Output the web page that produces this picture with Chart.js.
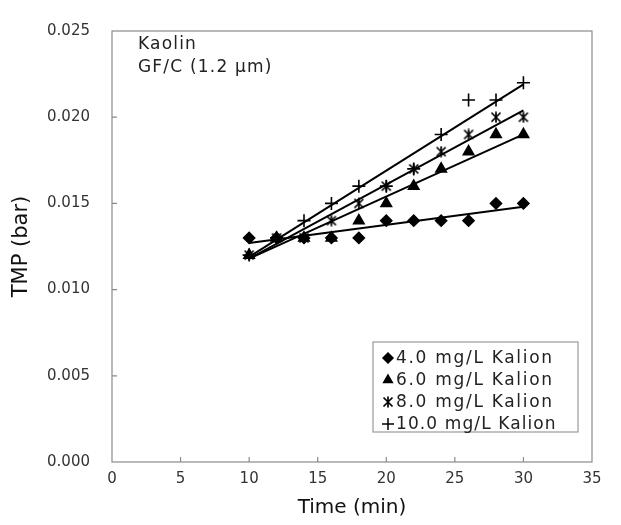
<!DOCTYPE html>
<html><head><meta charset="utf-8">
<script src="https://cdn.jsdelivr.net/npm/chart.js@4/dist/chart.umd.min.js"></script>
<style>html,body{margin:0;padding:0;background:#fff;}#wrap{width:621px;height:525px;}</style>
</head><body><div id="wrap"><canvas id="c" width="621" height="525"></canvas></div>
<script>
const time = [10, 12, 14, 16, 18, 20, 22, 24, 26, 28, 30];
const kal4 = [0.013, 0.013, 0.013, 0.013, 0.013, 0.014, 0.014, 0.014, 0.014, 0.015, 0.015];
const kal6 = [0.012, 0.013, 0.013, 0.013, 0.014, 0.015, 0.016, 0.017, 0.018, 0.019, 0.019];
const kal8 = [0.012, 0.013, 0.013, 0.014, 0.015, 0.016, 0.017, 0.018, 0.019, 0.020, 0.020];
const kal10 = [0.012, 0.013, 0.014, 0.015, 0.016, 0.016, 0.017, 0.019, 0.021, 0.021, 0.022];
const trendX = [10, 30];
const trend4 = [0.0127, 0.0148];
const trend6 = [0.0118, 0.0190];
const trend8 = [0.0118, 0.0204];
const trend10 = [0.0119, 0.0219];
const seriesLabels = ['4.0 mg/L Kalion', '6.0 mg/L Kalion', '8.0 mg/L Kalion', '10.0 mg/L Kalion'];
const xTicks = [0, 5, 10, 15, 20, 25, 30, 35];
const yTicks = [0, 0.005, 0.010, 0.015, 0.020, 0.025];
const noteLines = ['Kaolin', 'GF/C (1.2 \u03bcm)'];

const FONT = '"DejaVu Sans", Verdana, sans-serif';

// asterisk-like marker (X + vertical bar)
function makeStar(size) {
  const c = document.createElement('canvas');
  c.width = size; c.height = size;
  const g = c.getContext('2d');
  g.strokeStyle = '#000'; g.lineWidth = 1.7;
  const m = 1.5, e = size - 1.5, h = size / 2;
  g.beginPath();
  g.moveTo(m, m); g.lineTo(e, e);
  g.moveTo(e, m); g.lineTo(m, e);
  g.moveTo(h, 0.5); g.lineTo(h, size - 0.5);
  g.stroke();
  return c;
}
const starImg = makeStar(12);

const pts = (ys) => time.map((t, i) => ({x: t, y: ys[i]}));
const tpts = (ys) => trendX.map((t, i) => ({x: t, y: ys[i]}));
const styles = [
  {pointStyle: 'rectRot', radius: 5.5},
  {pointStyle: 'triangle', radius: 6},
  {pointStyle: starImg, radius: 6},
  {pointStyle: 'cross', radius: 6.5}
];
const series = [kal4, kal6, kal8, kal10];
const trends = [trend4, trend6, trend8, trend10];
const datasets = [];
trends.forEach((t) => datasets.push({type: 'line', data: tpts(t), borderColor: '#000', borderWidth: 2, pointRadius: 0, fill: false, showLine: true, order: 2}));
series.forEach((s, i) => datasets.push({type: 'scatter', label: seriesLabels[i], data: pts(s), pointStyle: styles[i].pointStyle, pointRadius: styles[i].radius, pointBackgroundColor: '#000', pointBorderColor: '#000', pointBorderWidth: 1.6, showLine: false, order: 1}));

const framePlugin = {
  id: 'frame',
  afterDraw(chart) {
    const {ctx, chartArea: a, scales} = chart;
    ctx.save();
    ctx.strokeStyle = '#8a8a8a';
    ctx.lineWidth = 1.2;
    ctx.strokeRect(a.left, a.top, a.right - a.left, a.bottom - a.top);
    ctx.beginPath();
    xTicks.forEach(v => { if (v > 0 && v < 35) { const px = scales.x.getPixelForValue(v); ctx.moveTo(px, a.bottom); ctx.lineTo(px, a.bottom - 5); } });
    yTicks.forEach(v => { if (v > 0 && v < 0.025) { const py = scales.y.getPixelForValue(v); ctx.moveTo(a.left, py); ctx.lineTo(a.left + 5, py); } });
    ctx.stroke();
    // note text
    ctx.fillStyle = '#222';
    ctx.font = '17px ' + FONT;
    ctx.letterSpacing = '1.2px';
    ctx.textBaseline = 'middle';
    ctx.textAlign = 'left';
    ctx.fillText(noteLines[0], 138, 45);
    ctx.fillText(noteLines[1], 138, 68);
    // legend
    const bx = 373, by = 342, bw = 205, bh = 90;
    ctx.strokeStyle = '#9a9a9a';
    ctx.lineWidth = 1.2;
    ctx.strokeRect(bx, by, bw, bh);
    seriesLabels.forEach((lab, i) => {
      const cy = by + 16 + i * 22;
      ctx.fillStyle = '#000'; ctx.strokeStyle = '#000'; ctx.lineWidth = 1.5;
      Chart.helpers.drawPoint(ctx, {pointStyle: styles[i].pointStyle, radius: i === 3 ? 6 : 5, borderWidth: 1.5, rotation: 0}, 388, cy);
      ctx.fillStyle = '#222';
      ctx.font = '17px ' + FONT;
      ctx.letterSpacing = i === 3 ? '1.1px' : '1.7px';
      ctx.fillText(lab, 396, cy + 1);
    });
    ctx.letterSpacing = '0px';
    ctx.restore();
  }
};

new Chart(document.getElementById('c'), {
  type: 'scatter',
  data: {datasets},
  options: {
    responsive: false,
    animation: false,
    layout: {padding: {left: 0, top: 13, right: 29, bottom: 0}},
    plugins: {legend: {display: false}, tooltip: {enabled: false}},
    scales: {
      x: {
        type: 'linear', min: 0, max: 35,
        afterFit(s) { s.height = 63; },
        afterBuildTicks(s) { s.ticks = xTicks.map(v => ({value: v})); },
        grid: {display: false, drawTicks: false},
        border: {display: false},
        ticks: {padding: 8, color: '#333', font: {family: FONT, size: 15}, maxRotation: 0},
        title: {display: true, text: 'Time (min)', color: '#111', font: {family: FONT, size: 20}, padding: {top: 0, bottom: 5}}
      },
      y: {
        type: 'linear', min: 0, max: 0.025,
        afterFit(s) { s.width = 112; },
        afterBuildTicks(s) { s.ticks = yTicks.map(v => ({value: v})); },
        grid: {display: false, drawTicks: false},
        border: {display: false},
        ticks: {padding: 22, color: '#333', font: {family: FONT, size: 15}, callback: v => Number(v).toFixed(3)},
        title: {display: true, text: 'TMP (bar)', color: '#111', font: {family: FONT, size: 21}, padding: {top: 9, bottom: 0}}
      }
    }
  },
  plugins: [framePlugin]
});
</script></body></html>
